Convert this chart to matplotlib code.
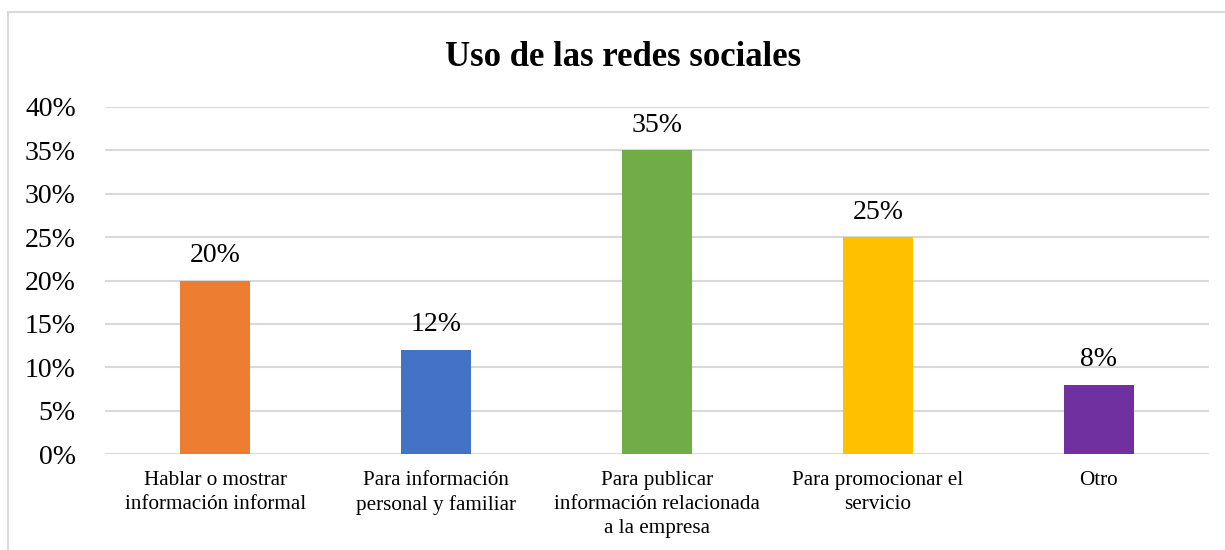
import matplotlib
matplotlib.use("Agg")
import matplotlib.pyplot as plt
from matplotlib.patches import Rectangle
from matplotlib.ticker import PercentFormatter

# Datos del gráfico
categorias = [
    "Hablar o mostrar\ninformación informal",
    "Para información\npersonal y familiar",
    "Para publicar\ninformación relacionada\na la empresa",
    "Para promocionar el\nservicio",
    "Otro",
]
porcentajes = [0.20, 0.12, 0.35, 0.25, 0.08]
colores = ["#ED7D31", "#4472C4", "#70AD47", "#FFC000", "#7030A0"]
ticks_y = [0, 0.05, 0.10, 0.15, 0.20, 0.25, 0.30, 0.35, 0.40]

plt.rcParams["font.family"] = ["Liberation Serif", "DejaVu Serif"]

fig = plt.figure(figsize=(12.25, 5.5), dpi=100)
ax = fig.add_axes([105 / 1225, 1 - 454 / 550, (1209 - 105) / 1225, (454 - 107) / 550])

# Marco del área del gráfico
fig.patches.append(Rectangle((8 / 1225, -0.1), 1.2, 1 - 12 / 550 + 0.1,
                             transform=fig.transFigure, fill=False,
                             edgecolor="#D9D9D9", linewidth=1.5))

x = range(len(categorias))
ax.bar(x, porcentajes, width=0.317, color=colores, zorder=3)

for xi, v in zip(x, porcentajes):
    ax.annotate(f"{v:.0%}", (xi, v), xytext=(0, 9), textcoords="offset points",
                ha="center", va="bottom", fontsize=20, color="#000000")

ax.set_xlim(-0.5, len(categorias) - 0.5)
ax.set_ylim(0, 0.40)
ax.set_yticks(ticks_y)
ax.yaxis.set_major_formatter(PercentFormatter(1.0, decimals=0))
ax.set_xticks(list(x))
ax.set_xticklabels(categorias, fontsize=15.2, linespacing=1.36)

ax.grid(axis="y", color="#D9D9D9", linewidth=1.5, zorder=0)
for s in ax.spines.values():
    s.set_visible(False)
ax.tick_params(axis="y", length=0, labelsize=20, pad=21)
ax.tick_params(axis="x", length=0, pad=12)

fig.text(623 / 1225, 1 - 57 / 550, "Uso de las redes sociales", ha="center", va="center",
         fontsize=25, fontweight="bold")

fig.savefig("out.png", dpi=100)
